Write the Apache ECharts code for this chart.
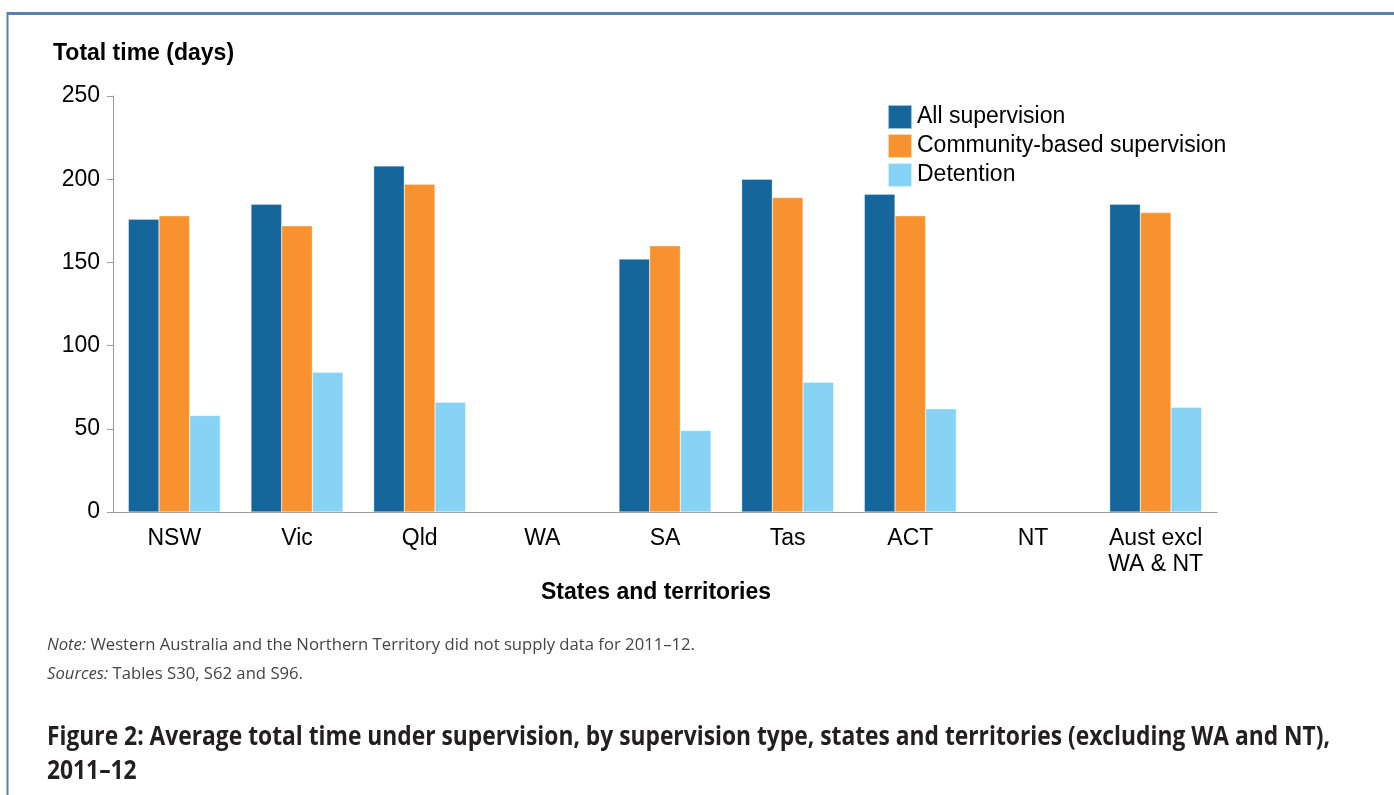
<!DOCTYPE html>
<html>
<head>
<meta charset="utf-8">
<script src="https://cdn.jsdelivr.net/npm/echarts@6/dist/echarts.min.js"></script>
<style>
html,body{margin:0;padding:0;background:#fff;}
#chart{width:1394px;height:795px;}
</style>
</head>
<body>
<div id="chart"></div>
<script>
var categories = ['NSW', 'Vic', 'Qld', 'WA', 'SA', 'Tas', 'ACT', 'NT', 'Aust excl\nWA & NT'];
var allSupervision = [176, 185, 208, null, 152, 200, 191, null, 185];
var communitySupervision = [178, 172, 197, null, 160, 189, 178, null, 180];
var detention = [58, 84, 66, null, 49, 78, 62, null, 63];
var yTicks = [0, 50, 100, 150, 200, 250];

var noteText = 'Western Australia and the Northern Territory did not supply data for 2011–12.';
var sourcesText = 'Tables S30, S62 and S96.';
var captionLine1 = 'Figure 2: Average total time under supervision, by supervision type, states and territories (excluding WA and NT),';
var captionLine2 = '2011–12';

var chart = echarts.init(document.getElementById('chart'));
var labelFont = '"Liberation Sans", Arial, sans-serif';
var myriadLike = '"Open Sans", "Noto Sans", sans-serif';

var cv = document.createElement('canvas').getContext('2d');
function measure(txt, font) { cv.font = font; return cv.measureText(txt).width; }

var noteFont = '17px ' + myriadLike;
var noteItalic = 'italic 17px ' + myriadLike;
var noteScale = 648 / (measure('Note: ', noteItalic) + measure(noteText, noteFont));
var capFont = 'bold 27px ' + myriadLike;
var capScale = 1283 / measure(captionLine1, capFont);

function barSeries(name, data, color) {
  return {
    name: name, type: 'bar', data: data, barGap: '0%', barCategoryGap: '25%',
    itemStyle: { color: color, borderColor: 'rgba(255,255,255,0.6)', borderWidth: 0.5 },
    emphasis: { disabled: true }
  };
}

chart.setOption({
  animation: false,
  backgroundColor: '#fff',
  grid: { left: 113, top: 96, right: 177, bottom: 283 },
  legend: {
    orient: 'vertical', left: 882, top: 99,
    itemWidth: 24, itemHeight: 24, itemGap: 3,
    icon: 'rect',
    textStyle: { fontFamily: labelFont, fontSize: 23, color: '#000', padding: [0, 0, 0, 0] },
    data: ['All supervision', 'Community-based supervision', 'Detention']
  },
  xAxis: {
    type: 'category', data: categories,
    axisLine: { lineStyle: { color: '#9a9a9a', width: 1 } },
    axisTick: { show: false },
    axisLabel: { interval: 0, fontFamily: labelFont, fontSize: 23, color: '#000', margin: 14, lineHeight: 26 }
  },
  yAxis: {
    type: 'value', min: yTicks[0], max: yTicks[yTicks.length - 1], interval: 50,
    splitLine: { show: false },
    axisLine: { show: true, lineStyle: { color: '#9a9a9a', width: 1 } },
    axisTick: { show: true, length: 6, lineStyle: { color: '#9a9a9a' } },
    axisLabel: { fontFamily: labelFont, fontSize: 23, color: '#000', margin: 13 }
  },
  series: [
    barSeries('All supervision', allSupervision, '#15669a'),
    barSeries('Community-based supervision', communitySupervision, '#f7922e'),
    barSeries('Detention', detention, '#87d3f5')
  ],
  graphic: [
    { type: 'line', shape: { x1: 7, y1: 13.5, x2: 1394, y2: 13.5 }, style: { stroke: '#5b80b0', lineWidth: 3 } },
    { type: 'line', shape: { x1: 7.5, y1: 12, x2: 7.5, y2: 795 }, style: { stroke: '#5b80b0', lineWidth: 2 } },
    { type: 'text', x: 53, y: 42, style: { text: 'Total time (days)', font: 'bold 23px ' + labelFont, fill: '#000', verticalAlign: 'top' } },
    { type: 'text', x: 656, y: 581, style: { text: 'States and territories', font: 'bold 23px ' + labelFont, fill: '#000', align: 'center', verticalAlign: 'top' } },
    { type: 'text', x: 47, y: 637, scaleX: noteScale, style: {
        text: '{i|Note: }' + noteText,
        font: noteFont, fill: '#444', verticalAlign: 'top',
        rich: { i: { fontStyle: 'italic', fontSize: 17, fontFamily: myriadLike, fill: '#444' } } } },
    { type: 'text', x: 47, y: 666, scaleX: noteScale, style: {
        text: '{i|Sources: }' + sourcesText,
        font: noteFont, fill: '#444', verticalAlign: 'top',
        rich: { i: { fontStyle: 'italic', fontSize: 17, fontFamily: myriadLike, fill: '#444' } } } },
    { type: 'text', x: 47, y: 720, scaleX: capScale, style: {
        text: captionLine1 + '\n' + captionLine2,
        font: capFont, fill: '#231f20', lineHeight: 34, verticalAlign: 'top' } }
  ]
});
</script>
</body>
</html>
